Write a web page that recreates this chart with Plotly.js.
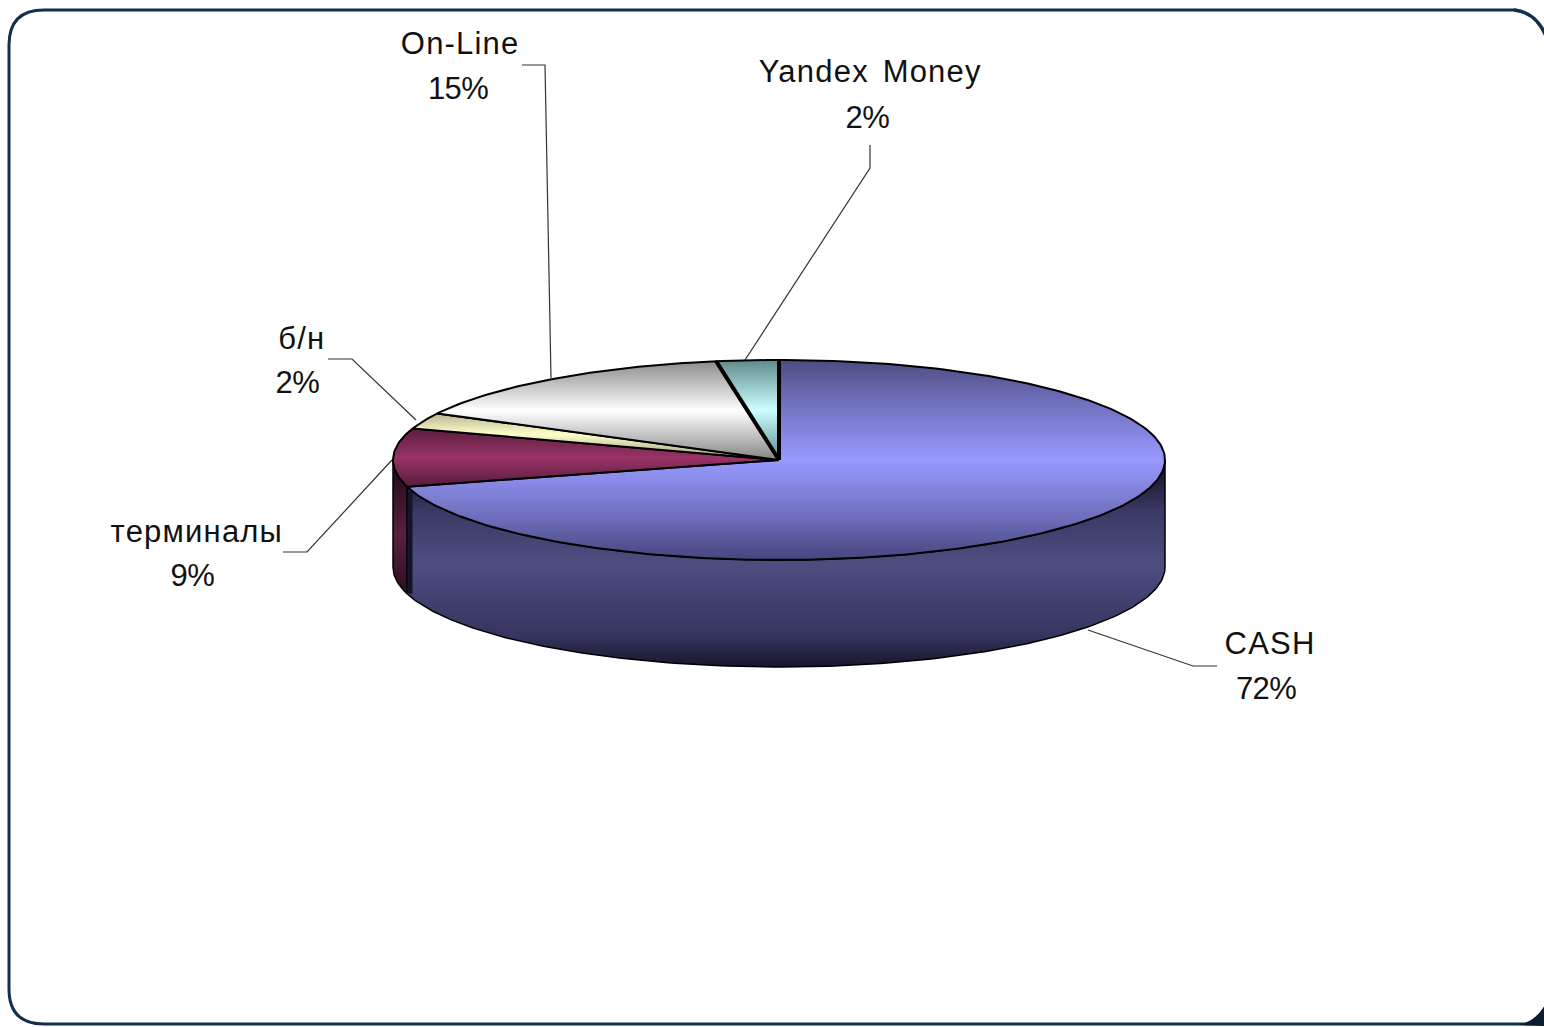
<!DOCTYPE html>
<html>
<head>
<meta charset="utf-8">
<script src="https://cdn.plot.ly/plotly-3.0.1.min.js"></script>
<style>
html,body{margin:0;padding:0;background:#fff;overflow:hidden}
</style>
</head>
<body>
<div id="chart" style="width:1544px;height:1027px"></div>
<script>
// Data
const categories = ["CASH", "терминалы", "б/н", "On-Line", "Yandex Money"];
const percentLabels = ["72%", "9%", "2%", "15%", "2%"];
// Arc shares as actually drawn, clockwise from 12 o'clock
const sliceShares = [70.7, 9.4, 2.6, 14.7, 2.6];

// Styles
const topScales = [
  [[0,"#45457f"],[0.2,"#6c6cb8"],[0.5,"#9999ff"],[0.8,"#6e6eba"],[1,"#4c4c80"]],
  [[0,"#571c3c"],[0.5,"#993366"],[1,"#5a1e3e"]],
  [[0,"#99997a"],[0.55,"#ffffcc"],[1,"#b5b58f"]],
  [[0,"#858585"],[0.5,"#ffffff"],[1,"#8c8c8c"]],
  [[0,"#5f8a8a"],[0.5,"#ccffff"],[1,"#5f8a8a"]]
];
const wallScales = [
  [[0,"#16162c"],[0.15,"#35355f"],[0.5,"#4d4d80"],[0.75,"#3a3a66"],[1,"#0e0e1e"]],
  [[0,"#2a0e1e"],[0.45,"#5a2040"],[1,"#1c0812"]]
];
// Pie geometry in pixel-like axis units
const cx = 779, cy = 460, rx = 386, ry = 100, depth = 107;

const pt = (deg, dy) => {
  const t = deg * Math.PI / 180;
  return [cx + rx * Math.sin(t), cy - ry * Math.cos(t) + (dy || 0)];
};
const arc = (a, b, dy) => {
  const out = [], n = Math.max(2, Math.ceil(Math.abs(b - a)));
  for (let i = 0; i <= n; i++) out.push(pt(a + (b - a) * i / n, dy));
  return out;
};
const total = sliceShares.reduce((s, v) => s + v, 0);
const edges = [0];
sliceShares.forEach(v => edges.push(edges[edges.length - 1] + v / total * 360));

const poly = (pts, name, scale, w) => ({
  type: "scatter", mode: "lines", name: name,
  x: pts.map(p => p[0]), y: pts.map(p => p[1]),
  fill: "toself",
  fillgradient: {type: "vertical", colorscale: scale},
  line: {color: "#000000", width: w},
  hoverinfo: "name", showlegend: false
});
const spoke = (pts, color, w) => ({
  type: "scatter", mode: "lines",
  x: pts.map(p => p[0]), y: pts.map(p => p[1]),
  line: {color: color, width: w},
  hoverinfo: "skip", showlegend: false
});

const traces = [];
// Walls: only the front-facing part (90..270 degrees) is visible
categories.forEach((c, i) => {
  const a = Math.max(edges[i], 90), b = Math.min(edges[i + 1], 270);
  if (b <= a) return;
  const pts = arc(a, b, 0).concat(arc(b, a, depth));
  pts.push(pts[0]);
  traces.push(poly(pts, c, wallScales[Math.min(i, wallScales.length - 1)], 1.5));
});
// Cut edge between the first two walls
const cut = pt(edges[1], 0);
traces.push(spoke([[cut[0] + 3, cut[1] + 5], [cut[0] + 3, cut[1] + depth]], "#14142a", 5));
// Top faces
categories.forEach((c, i) => {
  const pts = [[cx, cy]].concat(arc(edges[i], edges[i + 1], 0));
  pts.push([cx, cy]);
  traces.push(poly(pts, c, topScales[i], 2));
});
// Heavier radial edges of the last slice
traces.push(spoke([[cx, cy], pt(edges[4], 0)], "#000000", 4));
traces.push(spoke([[cx, cy], pt(0, 0)], "#000000", 4));

// Label positions (centres)
const nameAt = [[1270,643],[197,531],[302,338],[460,43],[870,71]];
const pctAt  = [[1266,688],[192,575],[297,382],[458,88],[867,117]];
const annotations = [];
const note = (t, p) => ({
  x: p[0], y: p[1], xref: "x", yref: "y", text: t, showarrow: false,
  xanchor: "center", yanchor: "middle",
  font: {family: "Liberation Sans, Arial, sans-serif", size: 31, color: "#111111"}
});
categories.forEach((c, i) => {
  annotations.push(note(c, nameAt[i]));
  annotations.push(note(percentLabels[i], pctAt[i]));
});

const leader = d => ({
  type: "path", xref: "x", yref: "y", path: d, layer: "below",
  line: {color: "#333333", width: 1.2}
});
const shapes = [
  leader("M522,65 L545,65 L551,378"),
  leader("M870,145 L870,168 L745,360"),
  leader("M328,359 L352,359 L416,420"),
  leader("M283,552 L307,552 L392,460"),
  leader("M1217,666 L1193,666 L1088,630"),
  // Rounded frame
  {type: "path", xref: "x", yref: "y", layer: "below",
   path: "M1516,10 L44,10 Q9,10 9,45 L9,989 Q9,1024 44,1024 L1560,1024",
   line: {color: "#12304e", width: 3}},
  {type: "path", xref: "x", yref: "y", layer: "below",
   path: "M1514,10 Q1536,12 1546,36",
   line: {color: "#12304e", width: 3.5}},
  // Dark bottom-right corner
  {type: "path", xref: "x", yref: "y", layer: "above",
   path: "M1518,1025 Q1536,1022 1546,1003 L1546,1026 Z",
   fillcolor: "#0c1c30", line: {width: 0}}
];

const hiddenAxis = {visible: false, fixedrange: true, showgrid: false, zeroline: false};
const layout = {
  width: 1544, height: 1027,
  margin: {l: 0, r: 0, t: 0, b: 0},
  paper_bgcolor: "#ffffff", plot_bgcolor: "#ffffff",
  xaxis: Object.assign({range: [0, 1544]}, hiddenAxis),
  yaxis: Object.assign({range: [1027, 0]}, hiddenAxis),
  showlegend: false,
  annotations: annotations,
  shapes: shapes
};
Plotly.newPlot("chart", traces, layout, {displayModeBar: false, responsive: false}).then(() => {
  // Tracking of the stretched label lettering; percent labels are tighter
  document.querySelectorAll(".annotation-text").forEach(el => {
    const isPct = el.textContent.trim().endsWith("%");
    el.style.letterSpacing = isPct ? "-0.6px" : "1.2px";
    el.style.wordSpacing = isPct ? "0" : "4px";
  });
});
</script>
</body>
</html>
